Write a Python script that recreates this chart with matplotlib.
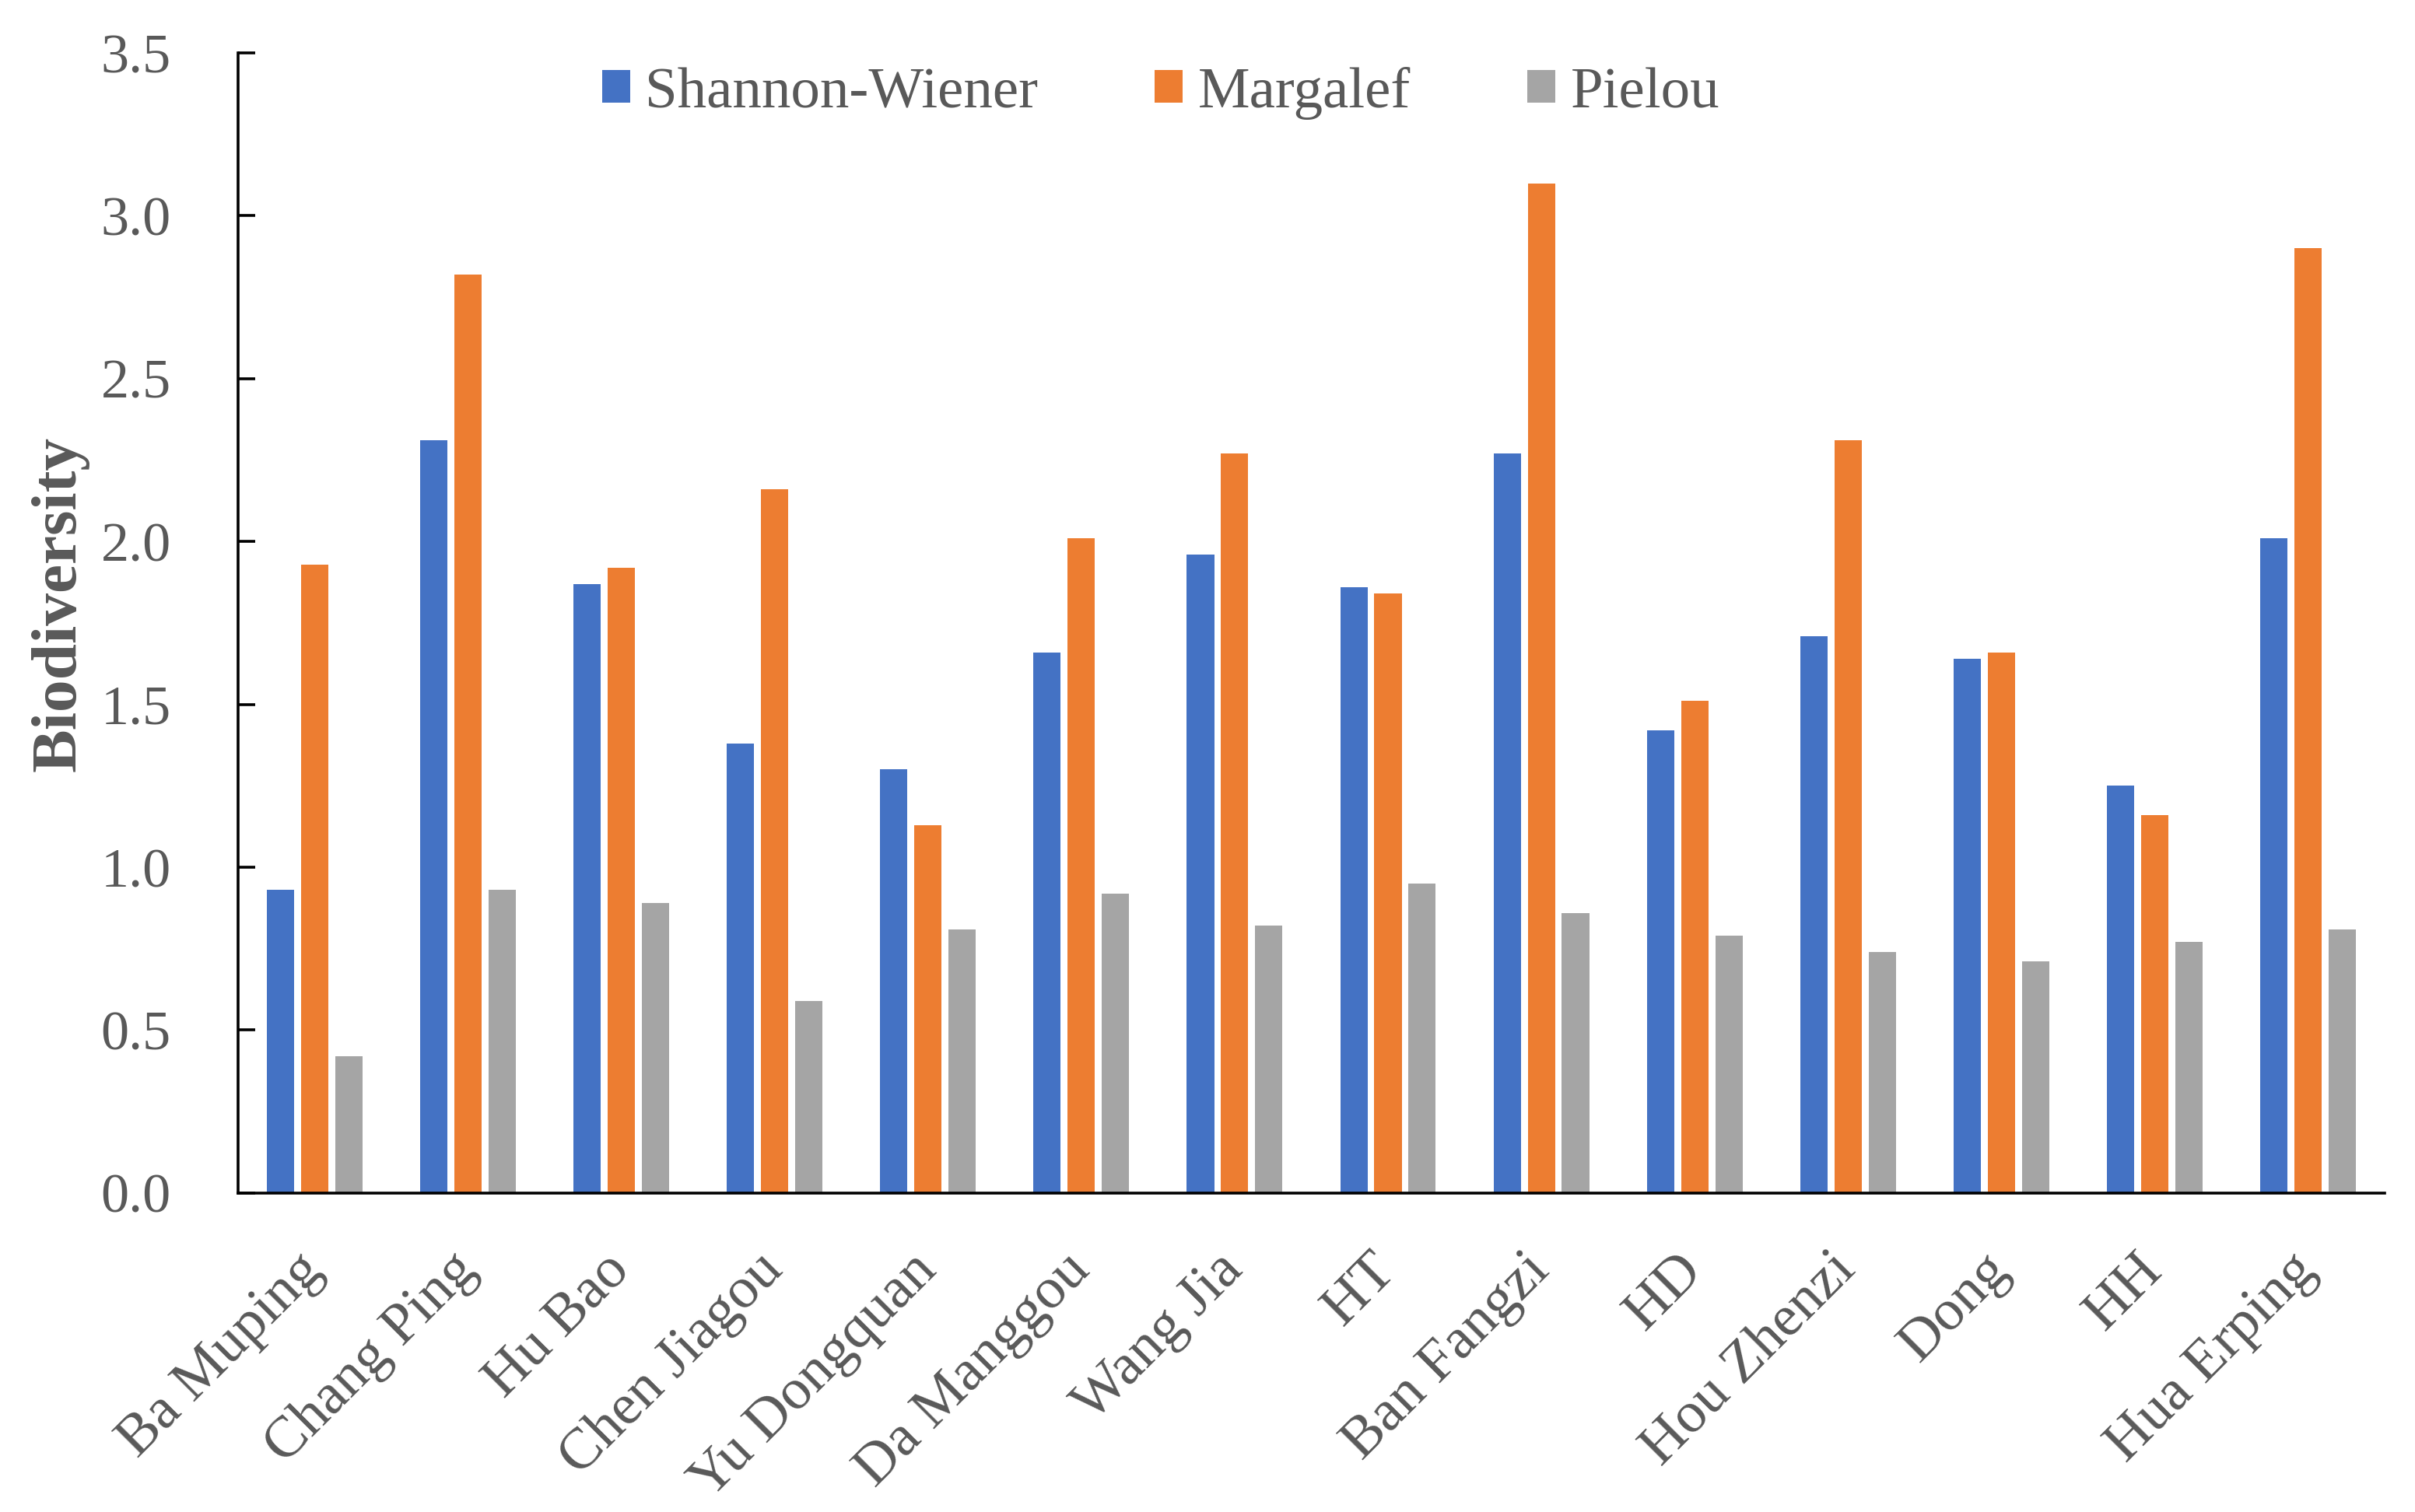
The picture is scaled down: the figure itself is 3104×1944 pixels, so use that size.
import numpy as np
import matplotlib
matplotlib.use('Agg')
from matplotlib import pyplot as plt

sites = ['Ba Muping', 'Chang Ping', 'Hu Bao', 'Chen Jiagou', 'Yu Dongquan', 'Da Manggou',
         'Wang Jia', 'HT', 'Ban Fangzi', 'HD', 'Hou Zhenzi', 'Dong', 'HH', 'Hua Erping']
shannon = [0.93, 2.31, 1.87, 1.38, 1.30, 1.66, 1.96, 1.86, 2.27, 1.42, 1.71, 1.64, 1.25, 2.01]
margalef = [1.93, 2.82, 1.92, 2.16, 1.13, 2.01, 2.27, 1.84, 3.10, 1.51, 2.31, 1.66, 1.16, 2.90]
pielou = [0.42, 0.93, 0.89, 0.59, 0.81, 0.92, 0.82, 0.95, 0.86, 0.79, 0.74, 0.71, 0.77, 0.81]
yticks = [0.0, 0.5, 1.0, 1.5, 2.0, 2.5, 3.0, 3.5]

grey = '#595959'
plt.rcParams['font.family'] = ['Liberation Serif', 'DejaVu Serif']

fig = plt.figure(figsize=(15.52, 9.72), dpi=200)
ax = fig.add_axes([0.0986, 0.211, 0.8888, 0.754])

x = np.arange(len(sites))
w = 0.178
step = 0.223
ax.bar(x - step, shannon, w, color='#4472C4', label='Shannon-Wiener')
ax.bar(x, margalef, w, color='#ED7D31', label='Margalef')
ax.bar(x + step, pielou, w, color='#A5A5A5', label='Pielou')

ax.set_xlim(-0.5, len(sites) - 0.5)
ax.set_ylim(0, 3.5)
ax.set_yticks(yticks)
ax.set_yticklabels(['%.1f' % v for v in yticks])
ax.set_xticks(x)
ax.set_xticklabels(sites, rotation=45, ha='right', va='center', rotation_mode='anchor')

for s in ['top', 'right']:
    ax.spines[s].set_visible(False)
for s in ['left', 'bottom']:
    ax.spines[s].set_linewidth(1.3)
    ax.spines[s].set_color('black')

ax.tick_params(axis='y', direction='in', length=7.8, width=1.3, pad=31,
               labelsize=26, labelcolor=grey)
ax.tick_params(axis='x', length=0, pad=32, labelsize=27, labelcolor=grey)

fig.text(77 / 3104, 1 - 776 / 1944, 'Biodiversity', rotation=90, ha='center', va='center',
         fontsize=30, fontweight='bold', color=grey)

leg = fig.legend(loc='center', bbox_to_anchor=(1492 / 3104, 1 - 120 / 1944), ncol=3,
                 frameon=False, fontsize=27, handlelength=0.48, handleheight=0.48,
                 handletextpad=0.26, columnspacing=2.0, labelcolor=grey)

fig.savefig('out.png', dpi=200)
